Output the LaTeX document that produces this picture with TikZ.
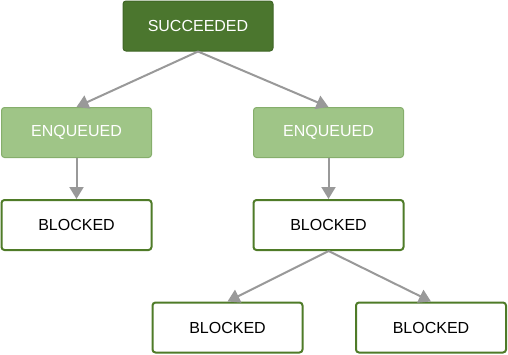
\documentclass[tikz,border=0pt]{standalone}
\usepackage{fontspec}
\setmainfont{Liberation Sans}
\usetikzlibrary{arrows.meta}
\definecolor{darkgreen}{HTML}{4B762E}
\definecolor{darkgreenborder}{HTML}{3F6626}
\definecolor{lightgreen}{HTML}{9FC587}
\definecolor{lightgreenborder}{HTML}{86AE6C}
\definecolor{blockborder}{HTML}{4F7B28}
\definecolor{arrowgray}{HTML}{999999}
\begin{document}
\begin{tikzpicture}[x=1pt,y=-1pt,
  box/.style={rounded corners=3pt, minimum width=150pt, minimum height=50pt, inner sep=0pt, font=\fontsize{16}{19}\selectfont},
  succ/.style={box, fill=darkgreen, draw=darkgreenborder, line width=1pt, text=white},
  enq/.style={box, fill=lightgreen, draw=lightgreenborder, line width=1pt, text=white},
  blk/.style={box, fill=white, draw=blockborder, line width=2pt, text=black},
  conn/.style={draw=arrowgray, line width=2pt, -{Triangle[width=14pt,length=12pt]}}]
\useasboundingbox (0,0) rectangle (508,354);
\node[succ] (s) at (198,26) {SUCCEEDED};
\node[enq] (e1) at (76.5,132.5) {ENQUEUED};
\node[enq] (e2) at (328.5,132.5) {ENQUEUED};
\node[blk] (b1) at (76.5,225) {BLOCKED};
\node[blk] (b2) at (328.5,225) {BLOCKED};
\node[blk] (b3) at (227.5,327.5) {BLOCKED};
\node[blk] (b4) at (431,327.5) {BLOCKED};
\draw[conn] (s.south) -- (e1.north);
\draw[conn] (s.south) -- (e2.north);
\draw[conn] (e1.south) -- (b1.north);
\draw[conn] (e2.south) -- (b2.north);
\draw[conn] (b2.south) -- (b3.north);
\draw[conn] (b2.south) -- (b4.north);
\end{tikzpicture}
\end{document}
